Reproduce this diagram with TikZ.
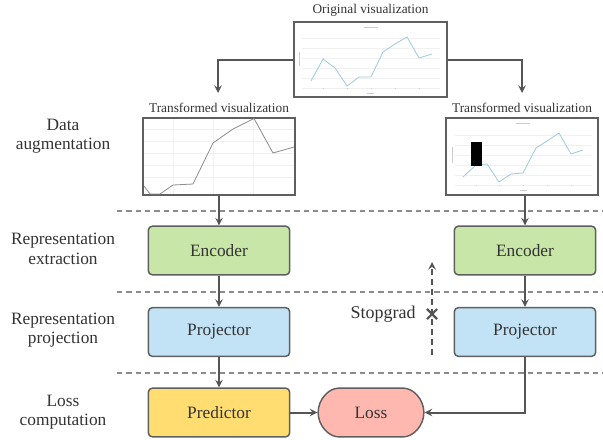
\documentclass[tikz,border=0pt]{standalone}
\usepackage{fontspec}
\setmainfont{Liberation Serif}
\usetikzlibrary{arrows,shapes.misc,positioning}
\definecolor{encgreen}{HTML}{C7E6A8}
\definecolor{projblue}{HTML}{C2E3F6}
\definecolor{predyellow}{HTML}{FFDD71}
\definecolor{losspink}{HTML}{FFB8B0}
\definecolor{boxgrey}{HTML}{5F5F5F}
\definecolor{linegrey}{HTML}{555555}
\definecolor{textgrey}{HTML}{333333}
\definecolor{plotblue}{HTML}{9CCBDD}
\tikzstyle{arrow} = [line width=1.5pt,->,>=stealth,draw=linegrey]

\begin{document}
\begin{tikzpicture}[x=0.75pt,y=-0.75pt]
    \tikzstyle{block}=[rectangle,rounded corners=3pt,draw=boxgrey,line width=1.1pt,minimum width=106pt,minimum height=36.5pt,text=textgrey,font=\fontsize{13}{15}\selectfont]
    \tikzstyle{enc block}=[block,fill=encgreen]
    \tikzstyle{proj block}=[block,fill=projblue]
    \tikzstyle{pred block}=[block,fill=predyellow]
    \tikzstyle{loss block}=[block,rounded rectangle,fill=losspink,minimum width=86pt]
    \tikzstyle{vis}=[rectangle,draw=boxgrey,line width=1.3pt,fill=white,inner sep=0pt]
    \tikzstyle{vistitle}=[text=textgrey,font=\fontsize{10}{12}\selectfont,inner sep=1pt]
    \tikzstyle{annot}=[text=textgrey,align=center,font=\fontsize{13}{14.5}\selectfont]
    \tikzstyle{sep}=[dashed,draw=black!45,line width=0.8pt,dash pattern=on 4pt off 3pt]
    \tikzstyle{grid}=[draw=black!6,line width=0.3pt]
    \tikzstyle{tick}=[draw=black!20,line width=0.4pt]

    \useasboundingbox (0,0) rectangle (603,439);

    % Visualizations
    \node[vis,minimum width=114.75pt,minimum height=56.25pt] (orig) at (370.5,59.5) {};
    \node[vistitle,above=2pt of orig] (orig-t) {Original visualization};
    \node[vis,minimum width=114pt,minimum height=57.75pt] (vis-l) at (219,156.5) {};
    \node[vistitle,above=2.5pt of vis-l] (vis-l-t) {Transformed visualization};
    \node[vis,minimum width=114pt,minimum height=57.75pt] (vis-r) at (522,156.5) {};
    \node[vistitle,above=2.5pt of vis-r] (vis-r-t) {Transformed visualization};

    % Plot in the original visualization
    \foreach \y in {38,48,58,68,78,88}
        \path[grid] (302,\y) -- (440,\y);
    \path[tick] (364,27) -- (378,27);
    \path[tick] (299,52) -- (299,66);
    \path[tick] (367,93) -- (374,93);
    \foreach \x in {323,347,371,395,419}
        \path[tick] (\x,88.5) -- (\x+1,88.5);
    \draw[plotblue,line width=0.6pt] (311,81) -- (323,59) -- (335,68) -- (347,86) -- (359,77)
        -- (371,77) -- (383,52) -- (395,44) -- (407,37) -- (419,58) -- (432,54);

    % Plot in the cropped transformed visualization
    \foreach \y in {129,141,153,165,177}
        \path[grid] (144,\y) -- (294,\y);
    \foreach \x in {173,213,253}
        \path[grid] (\x,119) -- (\x,194);
    \draw[black!45,line width=0.6pt] (144,186) -- (150,194) -- (160,194) -- (173,185) -- (193,184)
        -- (213,143) -- (233,129) -- (254,118.5) -- (273,153) -- (294,147);

    % Plot in the masked transformed visualization
    \foreach \y in {135,145,155,165,175,185}
        \path[grid] (455,\y) -- (592,\y);
    \path[tick] (516,123) -- (530,123);
    \path[tick] (452,147) -- (452,163);
    \path[tick] (520,190) -- (527,190);
    \foreach \x in {476,499,523,547,571}
        \path[tick] (\x,185.5) -- (\x+1,185.5);
    \draw[plotblue,line width=0.6pt] (463,177) -- (476,165) -- (487,164) -- (499,182) -- (511,174)
        -- (523,173) -- (536,148) -- (547,141) -- (559,133) -- (571,154) -- (583,150);
    \fill[black] (471,142) rectangle (482,166);

    % Stage labels
    \node[annot] (l-aug) at (63,136.5) {Data\\augmentation};
    \node[annot] (l-ext) at (63,249) {Representation\\extraction};
    \node[annot] (l-proj) at (63,330) {Representation\\projection};
    \node[annot] (l-loss) at (63,412) {Loss\\computation};

    % Stage separators
    \foreach \y in {211,292,373}
        \path[sep] (117,\y) -- (603,\y);

    % Blocks
    \node[enc block] (enc-l) at (219,250.5) {Encoder};
    \node[enc block] (enc-r) at (525,250.5) {Encoder};
    \node[proj block] (proj-l) at (219,332) {Projector};
    \node[proj block] (proj-r) at (525,332) {Projector};
    \node[pred block] (pred) at (219,412.5) {Predictor};
    \node[loss block] (loss) at (371,412.5) {Loss};

    % Stopgrad
    \coordinate (sg-bot) at (432,355);
    \coordinate (sg-top) at (432,262);
    \node[cross out,draw=linegrey,line width=1.6pt,minimum size=6pt,inner sep=0pt] (sgx) at (432,314) {};
    \node[text=textgrey,font=\fontsize{13.5}{15}\selectfont,left=5pt of sgx] (sg-lab) {Stopgrad};
    \draw[arrow,dash pattern=on 4.5pt off 3pt] (sg-bot) -- (sg-top);

    % Connections
    \coordinate (in-l) at (218,93);
    \coordinate (in-r) at (522,93);
    \draw[arrow] (orig.west) -| (in-l);
    \draw[arrow] (orig.east) -| (in-r);
    \draw[arrow] (vis-l.south) -- (enc-l.north);
    \draw[arrow] (vis-l.south -| enc-r.north) -- (enc-r.north);
    \draw[arrow] (enc-l) -- (proj-l);
    \draw[arrow] (enc-r) -- (proj-r);
    \draw[arrow] (proj-l) -- (pred);
    \draw[arrow] (pred) -- (loss);
    \draw[arrow] (proj-r.south) |- (loss.east);
\end{tikzpicture}
\end{document}
